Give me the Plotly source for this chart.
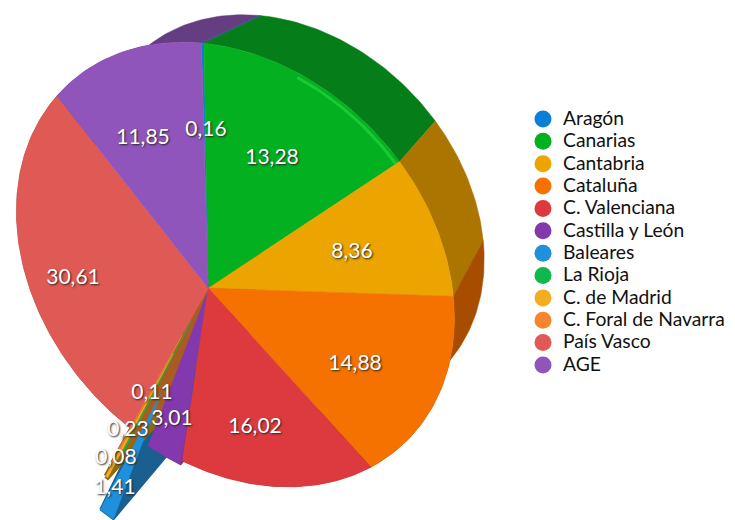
import numpy as np
import plotly.graph_objects as go

# ---- data ----
regions = ["Aragón", "Canarias", "Cantabria", "Cataluña", "C. Valenciana", "Castilla y León",
           "Baleares", "La Rioja", "C. de Madrid", "C. Foral de Navarra", "País Vasco", "AGE"]
values = [0.16, 13.28, 8.36, 14.88, 16.02, 3.01, 1.41, 0.11, 0.23, 0.08, 30.61, 11.85]

# ---- styles ----
colors = ["#0a7fd6", "#03b01f", "#eba400", "#f57200", "#dc3a3e", "#8338ad",
          "#1f90dc", "#0fb84a", "#f2ae20", "#f78530", "#e05a55", "#9055bb"]
wall_colors = ["#0a5a96", "#057d18", "#ab7500", "#a84d00", "#96282a", "#5c2779",
               "#1a5f8f", "#1c6b34", "#8f6a10", "#a85c22", "#9a3e3b", "#653e82"]
pulls = [0, 0, 0, 0, 0, 0.03, 0.68, 0.2, 0.42, 0.3, 0, 0]
wall_lines = [0.5, 0.5, 0.5, 0.5, 0.5, 0.5, 2, 6, 4, 2, 0.5, 0.5]
label_anchors = [(206, 131), (272, 159), (352, 253), (355, 365), (255, 428), (172, 420),
                 (115, 489), (152, 394), (128, 431), (116, 459), (73, 279), (143, 139)]

# ---- view geometry: tilted disc seen in perspective ----
vanish = np.array([725.0, -208.0])
depth = 0.11
calib_pct = [None, 0.16, 13.44, 21.8, 36.68, 52.7, 57.54, 88.15]
calib_img = [(208, 288), (205, 43), (400, 163), (454, 295), (370, 465), (178, 470), (135, 420), (55, 97)]


def disc(pct, r=1.0):
    a = np.asarray(pct) * 2 * np.pi / 100
    return np.stack([r * np.sin(a), r * np.cos(a)], axis=-1)


rows = []
for pct, (u, v) in zip(calib_pct, calib_img):
    x, y = (0.0, 0.0) if pct is None else disc(pct)
    rows.append([x, y, 1, 0, 0, 0, -u * x, -u * y, -u])
    rows.append([0, 0, 0, x, y, 1, -v * x, -v * y, -v])
H = np.linalg.svd(np.array(rows))[2][-1].reshape(3, 3)


def project(p):
    p = np.atleast_2d(p)
    q = np.c_[p, np.ones(len(p))] @ H.T
    return q[:, :2] / q[:, 2:]


def back(pts):
    return pts + depth * (vanish - pts)


def turn(a, b, c):
    return (b[0] - a[0]) * (c[1] - b[1]) - (b[1] - a[1]) * (c[0] - b[0])


def hull(pts):
    pts = sorted(map(tuple, pts))
    def half(ps):
        out = []
        for p in ps:
            while len(out) > 1 and turn(out[-2], out[-1], p) <= 0:
                out.pop()
            out.append(p)
        return out[:-1]
    return np.array(half(pts) + half(pts[::-1]))


fig = go.Figure()


def poly(pts, color, name, lw=0.5):
    pts = np.vstack([pts, pts[:1]])
    fig.add_trace(go.Scatter(x=pts[:, 0], y=pts[:, 1], mode="lines", fill="toself", fillcolor=color,
                             line=dict(width=lw, color=color), name=name, hoverinfo="name", showlegend=False))


edges = np.cumsum([0] + values)
arcs = [np.linspace(edges[i], edges[i + 1], 4 + int(values[i] * 3)) for i in range(len(values))]
mids = (edges[:-1] + edges[1:]) / 2

# outer walls of the slices that stay in the pie
for i, name in enumerate(regions):
    if pulls[i] == 0:
        front = project(disc(arcs[i]))
        poly(np.vstack([front, back(front)[::-1]]), wall_colors[i], name)

# exploded slices: body first, then everything else on top
order = [i for i in range(len(values)) if pulls[i] > 0]
faces = {}
for i in order:
    off = disc(mids[i]) * pulls[i]
    ring = np.vstack([[[0.0, 0.0]], disc(arcs[i])]) + off
    faces[i] = project(ring)
    parts = [faces[i], back(faces[i])]
    if pulls[i] > 0.1:
        parts.append(project(np.array([[0.0, 0.0]])))
    poly(hull(np.vstack(parts)), wall_colors[i], regions[i], wall_lines[i])

for i, name in enumerate(regions):
    if pulls[i] == 0:
        poly(project(np.vstack([[[0.0, 0.0]], disc(arcs[i])])), colors[i], name)
for i in order:
    poly(faces[i], colors[i], regions[i])

# bevel highlight along the front rim of the Canarias slice
rim = project(disc(np.linspace(edges[1] + values[1] * 0.45, edges[2], 20), r=0.985))
fig.add_trace(go.Scatter(x=rim[:, 0], y=rim[:, 1], mode="lines", line=dict(width=3, color="#2be040"),
                         hoverinfo="skip", showlegend=False, opacity=0.55))

# value labels
fig.add_trace(go.Scatter(
    x=[a[0] for a in label_anchors], y=[a[1] for a in label_anchors], mode="text",
    text=[f"{v:.2f}".replace(".", ",") for v in values], hoverinfo="skip", showlegend=False,
    textfont=dict(family="Lato", size=21, color="white", shadow="1px 1px 2px #222")))

# legend: bullets and names in rows
legend_rows = 119 + 22.36 * np.arange(len(regions))
fig.add_trace(go.Scatter(x=[543] * len(regions), y=legend_rows, mode="markers", hoverinfo="skip", showlegend=False,
                         marker=dict(size=17, color=colors, symbol="circle", line=dict(width=0))))
fig.add_trace(go.Scatter(x=[563] * len(regions), y=legend_rows + 1, mode="text", text=regions,
                         textposition="middle right", hoverinfo="skip", showlegend=False, cliponaxis=False,
                         textfont=dict(family="Lato", size=19.3, color="#111")))

fig.update_layout(
    width=727, height=512, margin=dict(l=0, r=0, t=0, b=0), paper_bgcolor="white", plot_bgcolor="white",
    showlegend=False,
    xaxis=dict(range=[8, 735], visible=False), yaxis=dict(range=[520, 8], visible=False),
)
fig.write_html("out.html")
